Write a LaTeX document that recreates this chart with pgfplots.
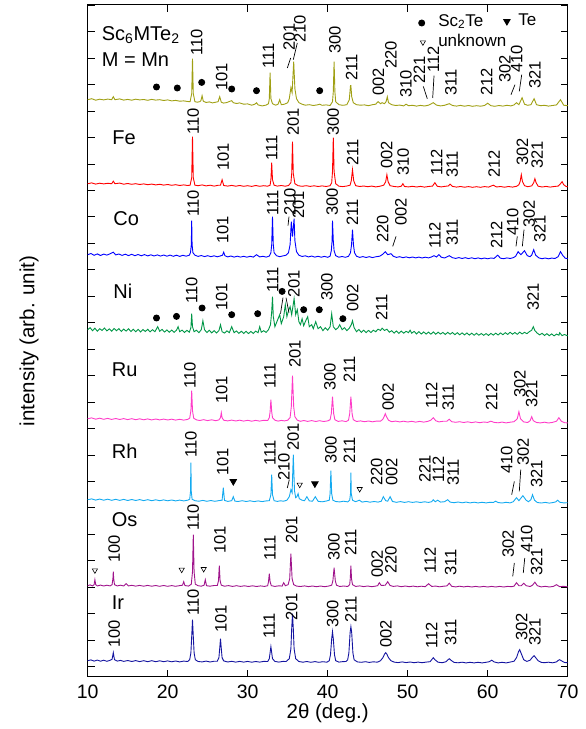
\documentclass[border=0pt]{standalone}
\usepackage{pgfplots}
\pgfplotsset{compat=1.18}
\usepackage{fontspec}
\setmainfont{Liberation Sans}
\definecolor{cMn}{RGB}{160,160,20}
\definecolor{cFe}{RGB}{255,0,0}
\definecolor{cCo}{RGB}{0,0,255}
\definecolor{cNi}{RGB}{0,150,70}
\definecolor{cRu}{RGB}{255,60,200}
\definecolor{cRh}{RGB}{20,170,240}
\definecolor{cOs}{RGB}{160,20,140}
\definecolor{cIr}{RGB}{20,20,160}
\newcommand{\hf}{\fontsize{16.5}{18}\selectfont}
\newcommand{\pf}{\fontsize{20}{24}\selectfont}
\newcommand{\lab}[3]{\node[rotate=90,anchor=west,inner sep=0pt,font=\hf] at (axis cs:#1,#2) {#3};}
\newcommand{\pan}[3]{\node[anchor=west,inner sep=0pt,font=\pf] at (axis cs:#1,#2) {#3};}
\newcommand{\lead}[4]{\draw[line width=0.7pt] (axis cs:#1,#2) -- (axis cs:#3,#4);}
\begin{document}
\begin{tikzpicture}
\begin{axis}[at={(0,0)},anchor=south west,scale only axis,width=480pt,height=671.7pt,
  xmin=10,xmax=70,ymin=0,ymax=671.7,
  xtick={10,20,...,70}, ytick={10,36.46,...,660}, yticklabels={},
  tick align=inside, major tick length=7pt,
  axis line style={line width=1pt}, every tick/.style={black,line width=0.9pt},
  clip=false,
  ticklabel style={font=\fontsize{19.5}{21}\selectfont},
  xticklabel style={yshift=-5pt},
  /pgf/number format/assume math mode=true,
  xlabel={2θ (deg.)}, ylabel={intensity (arb. unit)},
  label style={font=\fontsize{20.5}{23}\selectfont},
  xlabel style={at={(axis description cs:0.5,-0.055)},anchor=center},
  ylabel style={at={(axis description cs:-0.122,0.5)},anchor=center},
  every axis plot/.append style={line width=0.9pt}]

% Mn
\addplot[cMn] coordinates {(10,577)(10.5,578)(11,576.5)(11.5,577.5)(12,576.8)(12.5,577.6)(13,577)(13.2,580)(13.4,577)(14,577.8)(14.5,576.6)(15,577.3)(15.5,576.5)(16,577.5)(16.5,576.8)(17,577.2)(17.5,576.4)(18,577.3)(18.5,576.6)(19,577)(19.5,576.2)(20,576.8)(20.5,575.8)(21,576.3)(21.5,575.5)(22,575.8)(22.5,575.2)(22.8,575)(23.0,583)(23.1,618)(23.2,583)(23.4,575)(23.7,574.5)(24.0,575)(24.15,576)(24.3,581)(24.45,575.5)(24.8,574.2)(25.2,574.8)(25.6,573.8)(26.0,574.5)(26.3,575)(26.5,580)(26.7,574.5)(27.0,573.6)(27.4,574.2)(27.8,575.5)(28.0,576)(28.2,574)(28.6,573.2)(29.0,573.8)(29.5,572.5)(30.0,572.8)(30.5,571.5)(30.9,572.5)(31.1,574)(31.3,571.8)(31.8,570.8)(32.3,571.6)(32.6,573)(32.7,578)(32.8,604)(32.9,578)(33.1,573)(33.5,571.5)(33.8,572.5)(34.0,577)(34.2,572)(34.6,572.5)(35.0,574)(35.2,578)(35.4,589)(35.55,584)(35.75,615)(35.9,588)(36.1,578)(36.4,574)(36.8,572.5)(37.2,571.5)(37.7,572)(38.2,571.2)(38.7,571.8)(39.0,572.5)(39.3,571.4)(39.8,571.8)(40.3,571.2)(40.6,575)(40.7,585)(40.8,615)(40.9,585)(41.0,575)(41.4,572)(41.9,571.4)(42.4,572)(42.7,577)(42.85,591)(42.9,591)(43.0,580)(43.2,574)(43.6,572)(44.1,571.5)(44.6,571.8)(45.1,571)(45.6,572)(46.0,572.5)(46.3,575)(46.6,573)(46.8,574)(47.1,573)(47.3,575)(47.45,580)(47.6,574)(48.0,572)(48.5,571.2)(49.0,571.6)(49.5,570.8)(49.8,572.5)(50.1,571)(50.6,571.4)(51.1,570.6)(51.6,571.3)(52.1,570.7)(52.6,571.5)(53.2,574)(53.6,571.6)(54.1,570.8)(54.6,571.4)(55.2,573)(55.6,571.2)(56.1,570.6)(56.6,571.3)(57.1,570.5)(57.6,571.2)(58.1,570.4)(58.6,571)(59.1,570.5)(59.6,571.2)(60.0,573.5)(60.4,571)(60.9,570.4)(61.4,571.2)(61.9,570.6)(62.4,571.4)(62.9,570.8)(63.3,571.8)(63.6,574)(63.9,572)(64.3,579)(64.6,572.5)(65.0,571.4)(65.4,572)(65.8,578)(66.1,572)(66.6,571)(67.1,571.4)(67.6,570.6)(68.1,571.2)(68.6,571.8)(69.1,577)(69.5,571.5)(70,571)};

% Fe
\addplot[cFe] coordinates {(10,493)(10.5,493.8)(11,492.6)(11.5,493.5)(12,492.8)(12.5,493.4)(13,493)(13.2,495.5)(13.4,493)(14,493.6)(14.5,492.5)(15,493.2)(15.5,492.4)(16,493)(16.5,492.2)(17,492.8)(17.5,492)(18,492.6)(18.5,491.8)(19,492.4)(19.5,491.6)(20,492.2)(20.5,491.4)(21,492)(21.5,491.2)(22,491.8)(22.5,491.2)(22.8,491.5)(23.0,499)(23.1,540)(23.2,499)(23.4,491.5)(23.8,491)(24.3,491.8)(24.8,490.8)(25.3,491.5)(25.8,490.6)(26.3,491.4)(26.6,491.5)(26.8,497)(27.0,491.2)(27.5,490.6)(28.0,491.3)(28.5,490.5)(29.0,491.2)(29.5,490.4)(30.0,491)(30.5,490.3)(31.0,491.2)(31.5,490.4)(32.0,491)(32.5,490.5)(32.8,491.5)(32.9,497)(33.0,514)(33.1,497)(33.3,491.5)(33.7,490.6)(34.2,491.2)(34.7,490.5)(35.1,491.2)(35.4,494)(35.5,503)(35.6,535)(35.7,503)(35.9,493)(36.3,491)(36.8,490.4)(37.3,491)(37.8,490.3)(38.3,490.9)(38.8,490.2)(39.3,490.8)(39.8,490.2)(40.3,491)(40.5,494)(40.6,505)(40.7,539)(40.8,505)(41.0,493)(41.4,490.5)(41.9,490.1)(42.4,490.7)(42.8,491.5)(42.95,496)(43.1,507)(43.25,496)(43.5,491)(44.0,490.2)(44.5,490.7)(45.0,490)(45.5,490.6)(46.0,489.8)(46.5,490.4)(47.0,491.5)(47.25,495)(47.4,502)(47.55,495)(47.8,491)(48.3,490.2)(48.8,489.8)(49.2,490.5)(49.4,493)(49.6,490.2)(50.1,489.8)(50.6,490.4)(51.1,489.7)(51.6,490.3)(52.1,489.6)(52.6,490.2)(53.1,490.6)(53.4,494)(53.7,490.4)(54.2,489.8)(54.7,490.4)(55.1,490.8)(55.3,492.5)(55.6,490.3)(56.1,489.6)(56.6,490.2)(57.1,489.5)(57.6,490.1)(58.1,489.4)(58.6,490)(59.1,489.4)(59.6,490.1)(60.1,489.6)(60.7,491.5)(61.1,489.7)(61.6,490.2)(62.1,489.5)(62.6,490.2)(63.1,489.6)(63.6,490.4)(63.9,492)(64.05,495)(64.2,502)(64.35,495)(64.6,491)(65.0,490)(65.5,490.8)(65.75,494)(65.9,498)(66.05,494)(66.3,490.5)(66.8,489.7)(67.3,490.3)(67.8,489.6)(68.3,490.2)(68.8,490.6)(69.1,493)(69.3,495)(69.5,492)(69.8,490.2)(70,490)};

% Co
\addplot[cCo] coordinates {(10,422)(10.4,423.2)(10.8,421.4)(11.2,422.8)(11.6,421.2)(12,422.6)(12.4,421.6)(12.8,422.9)(13.2,424.5)(13.5,421.8)(13.9,422.7)(14.3,421.3)(14.7,422.5)(15.1,421.1)(15.5,422.4)(15.9,421)(16.3,422.2)(16.7,420.9)(17.1,422.1)(17.5,420.8)(17.9,421.9)(18.3,420.7)(18.7,421.8)(19.1,420.6)(19.5,421.7)(19.9,420.5)(20.3,421.6)(20.7,420.4)(21.1,421.5)(21.5,420.3)(21.9,421.4)(22.3,420.5)(22.7,421.5)(22.85,424)(22.95,432)(23.0,456)(23.05,432)(23.15,424)(23.4,421.5)(23.8,420.3)(24.2,421.2)(24.6,420.1)(25.0,421)(25.4,420)(25.8,420.9)(26.2,419.9)(26.6,420.8)(26.85,421.5)(27.0,424.5)(27.15,421)(27.5,419.8)(27.9,420.7)(28.3,419.6)(28.7,420.5)(29.1,419.6)(29.5,420.4)(29.9,419.5)(30.3,420.4)(30.7,419.6)(31.1,422)(31.5,419.8)(31.9,420.4)(32.3,419.6)(32.7,420.6)(32.9,424)(33.0,432)(33.1,460)(33.2,432)(33.3,424)(33.6,421)(34.0,420)(34.4,420.8)(34.8,421.5)(35.1,424)(35.3,432)(35.45,455)(35.6,440)(35.8,458)(35.9,436)(36.1,425)(36.4,421.5)(36.8,420.2)(37.2,420.9)(37.6,419.8)(38.0,420.6)(38.4,419.6)(38.8,420.4)(39.2,419.5)(39.6,420.3)(40.0,419.4)(40.3,420.5)(40.45,426)(40.55,436)(40.6,456)(40.7,436)(40.8,426)(41.0,421)(41.4,419.5)(41.8,420.2)(42.2,419.4)(42.6,420.4)(42.85,424)(42.98,432)(43.1,447)(43.22,432)(43.35,424)(43.6,420.5)(44.0,419.3)(44.4,420.1)(44.8,419.2)(45.2,420)(45.6,419.1)(46.0,419.9)(46.5,420.5)(46.9,422.5)(47.2,425)(47.5,422)(47.9,423)(48.2,420.5)(48.6,419.3)(49.0,420)(49.4,419)(49.8,419.8)(50.2,418.9)(50.6,419.7)(51.0,418.8)(51.4,419.6)(51.8,418.7)(52.2,419.5)(52.6,418.8)(53.0,419.8)(53.3,421)(53.6,419.7)(53.9,422)(54.2,419.5)(54.6,418.7)(55.2,421)(55.6,419)(56.0,418.3)(56.4,419.1)(56.8,418.2)(57.2,419)(57.6,418.1)(58.0,418.9)(58.4,418)(58.8,418.8)(59.2,417.9)(59.6,418.7)(60.0,417.9)(60.4,418.7)(60.8,418.3)(61.25,421.5)(61.6,418.5)(62.0,418)(62.4,418.8)(62.8,418.2)(63.2,419)(63.5,420.5)(63.8,425)(64.15,422)(64.6,426)(64.95,421)(65.3,420)(65.5,421.5)(65.75,427)(66.0,421.5)(66.4,418.8)(66.8,418)(67.2,418.7)(67.6,417.9)(68.0,418.6)(68.4,418.2)(68.8,420)(69.1,425)(69.4,421)(69.7,418.5)(70,418)};

% Ni
\addplot[cNi] coordinates {(10,347)(10.3,349)(10.6,346)(10.9,348.5)(11.2,345.5)(11.5,348)(11.8,346.2)(12.1,348.6)(12.4,345.8)(12.7,347.8)(13.0,345.5)(13.3,348.2)(13.6,346)(13.9,348)(14.2,345.3)(14.5,347.6)(14.8,345.6)(15.1,348)(15.4,345.2)(15.7,347.5)(16.0,345)(16.3,347.4)(16.6,344.8)(16.9,347.2)(17.2,345.2)(17.5,347.4)(17.8,344.9)(18.1,347)(18.4,345)(18.75,350)(19.0,345.4)(19.3,347.3)(19.6,344.6)(19.9,346.8)(20.2,344.5)(20.5,346.6)(20.8,344.4)(21.1,346.5)(21.3,350)(21.5,345)(21.8,346.6)(22.1,344.2)(22.4,346.4)(22.7,344.5)(22.9,349)(23.0,363)(23.1,350)(23.3,345)(23.6,346.5)(23.9,344)(24.2,347)(24.4,356)(24.6,347)(24.9,344.2)(25.2,346.4)(25.5,343.8)(25.8,346.1)(26.1,343.7)(26.4,346)(26.6,352)(26.8,345)(27.1,343.6)(27.4,345.9)(27.7,344)(28.0,350)(28.3,344)(28.6,345.8)(28.9,343.3)(29.2,345.5)(29.5,343.2)(29.8,345.4)(30.1,343.1)(30.4,345.3)(30.7,343.2)(31.0,345.6)(31.3,344)(31.5,350)(31.7,344.5)(32.0,346)(32.3,344.3)(32.6,347)(32.85,352)(33.0,365)(33.1,380)(33.2,360)(33.4,350)(33.7,356)(34.0,362)(34.2,353)(34.5,360)(34.7,372)(34.9,360)(35.1,366)(35.3,370)(35.5,362)(35.8,378)(36.0,362)(36.2,367)(36.4,355)(36.6,352)(36.8,358)(37.0,351)(37.2,355)(37.5,360)(37.7,350)(38.0,352)(38.2,348)(38.5,355)(38.8,348)(39.1,350)(39.4,346)(39.7,349)(40.0,346.5)(40.3,350)(40.5,363)(40.7,350)(41.0,347)(41.3,349)(41.5,352)(41.8,347)(42.1,349)(42.4,346)(42.7,348.5)(42.95,352)(43.1,356)(43.3,349)(43.6,345)(43.9,347.2)(44.2,344.3)(44.5,346.5)(44.8,344)(45.1,346.3)(45.4,344.2)(45.7,346.5)(46.0,345)(46.3,347.5)(46.6,346.2)(46.8,348.5)(47.1,346.3)(47.4,347.5)(47.7,344.5)(48.0,346)(48.3,343.5)(48.6,345.8)(48.9,343.3)(49.2,345.6)(49.5,343.5)(49.8,345.4)(50.1,344)(50.3,346.5)(50.5,343.5)(50.8,345.3)(51.1,342.8)(51.4,345)(51.7,342.7)(52.0,344.8)(52.3,342.6)(52.6,344.6)(52.9,342.5)(53.2,344.8)(53.5,342.4)(53.8,344.5)(54.1,342.6)(54.4,344.3)(54.7,342.2)(55.0,344.4)(55.3,342.5)(55.6,344.2)(55.9,342)(56.2,344)(56.5,341.9)(56.8,343.8)(57.1,341.8)(57.4,343.7)(57.7,341.6)(58.0,343.5)(58.3,341.5)(58.6,343.4)(58.9,341.5)(59.2,343.2)(59.5,341.4)(59.8,343.1)(60.1,341.3)(60.4,343.3)(60.7,341.6)(61.0,343.5)(61.3,341.7)(61.6,343.8)(61.9,342)(62.2,344)(62.5,342.3)(62.8,344.4)(63.1,342.5)(63.4,344.2)(63.7,342.4)(64.0,344.6)(64.3,342.8)(64.6,344.4)(64.9,343)(65.2,345)(65.5,346.5)(65.7,350)(65.9,346)(66.2,343.5)(66.5,341.8)(66.8,343.4)(67.1,341.2)(67.4,343)(67.7,341)(68.0,342.8)(68.3,340.8)(68.6,342.6)(68.9,341.5)(69.0,344)(69.3,341)(69.6,342.2)(70,340.8)};

% Ru
\addplot[cRu] coordinates {(10,258)(10.5,258.8)(11,257.5)(11.5,258.5)(12,257.4)(12.5,258.3)(13,257.3)(13.5,258.2)(14,257.2)(14.5,258.1)(15,257.1)(15.5,258)(16,257)(16.5,257.9)(17,256.9)(17.5,257.8)(18,256.8)(18.5,257.7)(19,256.8)(19.5,257.6)(20,256.7)(20.5,257.5)(21,256.6)(21.5,257.4)(22,256.6)(22.5,257.3)(22.75,258.5)(22.9,266)(23.0,286)(23.1,266)(23.25,258.5)(23.6,256.8)(24.0,256.2)(24.5,257)(25.0,256.1)(25.5,256.9)(26.0,256)(26.4,256.8)(26.6,259)(26.7,264)(26.8,259)(27.0,256.5)(27.5,255.8)(28.0,256.6)(28.5,255.7)(29.0,256.5)(29.5,255.6)(30.0,256.4)(30.5,255.5)(31.0,256.3)(31.5,255.6)(32.0,256.4)(32.5,256.2)(32.7,259)(32.8,265)(32.9,277)(33.0,265)(33.1,259)(33.4,256.5)(33.8,255.6)(34.2,256.3)(34.6,255.8)(35.0,256.5)(35.3,259)(35.45,270)(35.6,301)(35.75,270)(35.9,260)(36.2,256.5)(36.6,255.4)(37.0,256.2)(37.5,255.3)(38.0,256.1)(38.5,255.2)(39.0,256)(39.5,255.2)(40.0,255.8)(40.3,257)(40.45,263)(40.6,280)(40.75,263)(40.9,257)(41.3,255.3)(41.8,255.9)(42.3,255.1)(42.6,256.5)(42.75,263)(42.9,280)(43.05,263)(43.2,257)(43.6,255.2)(44.1,255.8)(44.6,255)(45.1,255.7)(45.6,254.9)(46.1,255.6)(46.6,255.5)(46.9,257.5)(47.05,260)(47.2,263)(47.35,260)(47.6,256.5)(48.0,255)(48.5,255.6)(49.0,254.8)(49.5,255.5)(50.0,254.7)(50.5,255.4)(51.0,254.6)(51.5,255.3)(52.0,254.6)(52.5,255.3)(52.9,256.5)(53.2,259)(53.5,256)(53.9,254.8)(54.4,255.4)(54.9,255.5)(55.2,257.5)(55.5,255)(56.0,254.4)(56.5,255)(57.0,254.2)(57.5,254.9)(58.0,254.1)(58.5,254.8)(59.0,254)(59.5,254.7)(60.0,254.3)(60.4,255.5)(60.8,254.3)(61.3,253.9)(61.8,254.6)(62.3,253.8)(62.8,254.5)(63.3,255)(63.7,258)(63.9,265)(64.1,258)(64.5,254.8)(65.0,254.2)(65.3,256)(65.5,260)(65.7,256)(66.1,254.2)(66.6,253.8)(67.1,254.5)(67.6,253.7)(68.1,254.3)(68.6,255.5)(68.9,259)(69.2,255.5)(69.6,254)(70,253.8)};

% Rh
\addplot[cRh] coordinates {(10,177)(10.5,177.8)(11,176.6)(11.5,177.6)(12,176.5)(12.5,177.5)(13,176.4)(13.5,177.4)(14,176.3)(14.5,177.3)(15,176.2)(15.5,177.2)(16,176.2)(16.5,177.1)(17,176.1)(17.5,177)(18,176)(18.5,176.9)(19,176)(19.5,176.8)(20,175.9)(20.5,176.7)(21,175.8)(21.5,176.6)(22,175.8)(22.5,176.5)(22.75,177.5)(22.85,185)(22.9,214)(22.95,185)(23.05,177.5)(23.4,176)(23.9,175.5)(24.4,176.3)(24.9,175.4)(25.4,176.2)(25.9,175.4)(26.4,176.1)(26.8,176.5)(26.95,189)(27.1,176.3)(27.5,175.3)(28.0,176)(28.2,180)(28.4,175.6)(28.8,175.2)(29.3,176)(29.8,175.2)(30.3,175.9)(30.8,175.1)(31.3,175.8)(31.8,175.1)(32.3,175.8)(32.7,176)(32.9,182)(33.0,202)(33.1,182)(33.3,176)(33.7,175.3)(34.1,175.9)(34.5,175.5)(34.9,176.5)(35.2,180)(35.4,187)(35.55,184)(35.7,222)(35.85,186)(36.0,179)(36.15,180)(36.3,183)(36.45,178)(36.8,176.5)(37.1,176)(37.4,180)(37.7,175.8)(38.1,175.5)(38.45,180)(38.8,175.4)(39.3,174.9)(39.8,175.6)(40.2,176.5)(40.3,183)(40.4,206)(40.5,183)(40.65,176.5)(41.0,175.2)(41.5,174.8)(42.0,175.5)(42.5,174.8)(42.75,176.5)(42.85,183)(42.9,204)(42.95,183)(43.1,176.5)(43.5,175)(43.95,176.5)(44.3,174.6)(44.8,175.3)(45.3,174.5)(45.8,175.2)(46.3,174.6)(46.7,175.5)(46.95,180)(47.25,176)(47.5,175.5)(47.8,180)(48.1,175.2)(48.6,174.4)(49.1,175.1)(49.6,174.3)(50.1,175)(50.6,174.3)(51.1,174.9)(51.6,174.2)(52.1,174.9)(52.6,174.3)(53.0,175)(53.2,177)(53.45,175)(53.75,176.5)(54.1,174.6)(54.6,175)(55.0,177)(55.3,174.6)(55.8,174)(56.3,174.7)(56.8,173.9)(57.3,174.6)(57.8,173.8)(58.3,174.5)(58.8,173.8)(59.3,174.4)(59.8,173.8)(60.3,174.4)(60.7,174.2)(61.0,175.5)(61.3,174.2)(61.8,173.7)(62.3,174.4)(62.8,173.8)(63.2,175)(63.6,179)(63.9,176)(64.4,181)(64.8,176.5)(65.1,175)(65.4,177)(65.6,182)(65.85,176.5)(66.2,174.2)(66.7,173.7)(67.2,174.3)(67.7,173.6)(68.2,174.2)(68.5,174.8)(68.75,176.5)(69.0,174.5)(69.5,173.8)(70,174)};

% Os
\addplot[cOs] coordinates {(10,91)(10.3,91.8)(10.6,90.8)(10.8,92)(10.9,97)(11.0,92)(11.2,90.8)(11.6,91.6)(12.0,90.7)(12.4,91.5)(12.8,90.8)(13.05,92)(13.15,98)(13.2,105)(13.25,98)(13.35,92)(13.7,90.8)(14.1,91.5)(14.5,90.7)(14.8,93)(15.1,90.8)(15.5,91.4)(16.0,90.6)(16.5,91.3)(17.0,90.5)(17.5,91.3)(18.0,90.5)(18.5,91.2)(19.0,90.4)(19.5,91.2)(20.0,90.4)(20.5,91.1)(21.0,90.4)(21.5,91.1)(21.85,91.5)(22.0,95)(22.15,91.2)(22.6,90.6)(22.95,92.5)(23.1,105)(23.2,142)(23.3,105)(23.45,92.5)(23.8,91)(24.2,90.5)(24.55,91.5)(24.7,97)(24.85,91)(25.3,90.5)(25.8,91.2)(26.2,91.2)(26.35,96)(26.45,111)(26.55,96)(26.7,91.5)(27.1,90.5)(27.6,91.1)(28.1,90.3)(28.6,91)(29.1,90.3)(29.6,90.9)(30.1,90.2)(30.6,90.9)(31.1,90.2)(31.6,90.8)(32.1,90.3)(32.5,91)(32.6,95)(32.7,103)(32.8,95)(32.95,91)(33.4,90.3)(33.9,90.9)(34.3,90.6)(34.5,94)(34.7,91)(35.05,92)(35.25,98)(35.4,123)(35.55,98)(35.75,92)(36.1,90.6)(36.6,90.2)(37.1,90.8)(37.6,90.1)(38.1,90.7)(38.6,90)(39.1,90.7)(39.6,90)(40.1,90.6)(40.5,91.5)(40.65,96)(40.8,109)(40.95,96)(41.1,91.5)(41.5,90.2)(42.0,90.7)(42.5,90.2)(42.75,92)(42.82,98)(42.9,111)(42.98,98)(43.1,92)(43.5,90.3)(44.0,90.8)(44.5,90.1)(45.0,90.7)(45.5,90)(46.0,90.6)(46.25,91)(46.45,94)(46.7,91.2)(47.2,91.5)(47.5,95)(47.8,91.2)(48.2,90.3)(48.7,90.8)(49.2,90)(49.7,90.7)(50.2,90)(50.7,90.6)(51.2,89.9)(51.7,90.5)(52.2,90)(52.6,93)(53.0,90.3)(53.5,90.6)(54.0,89.9)(54.5,90.5)(54.9,90.8)(55.2,93.5)(55.5,90.4)(56.0,89.8)(56.5,90.5)(57.0,89.8)(57.5,90.4)(58.0,89.7)(58.5,90.3)(59.0,89.7)(59.5,90.3)(60.0,89.7)(60.5,90.3)(61.0,89.7)(61.5,90.3)(62.0,89.7)(62.5,90.3)(63.0,90)(63.3,90.6)(63.6,94)(63.9,91)(64.2,91)(64.5,93.5)(64.8,91)(65.3,90.2)(65.6,91.5)(65.9,94.5)(66.2,91)(66.7,89.8)(67.2,90.4)(67.7,89.7)(68.2,90.3)(68.6,92)(69.0,90)(69.5,90.4)(70,89.8)};

% Ir
\addplot[cIr] coordinates {(10,16)(10.4,16.8)(10.8,15.6)(11.2,16.6)(11.6,15.5)(12,16.5)(12.4,15.4)(12.8,16.4)(13.05,17.5)(13.2,24)(13.35,17)(13.7,15.6)(14.1,16.3)(14.5,15.3)(15,16.2)(15.5,15.2)(16,16.1)(16.5,15.1)(17,16)(17.5,15)(18,16)(18.5,15)(19,15.9)(19.5,15)(20,15.8)(20.5,14.9)(21,15.7)(21.5,14.8)(22,15.6)(22.5,15.2)(22.75,17)(22.9,24)(23.0,40)(23.1,57)(23.2,40)(23.3,24)(23.45,17)(23.8,15.2)(24.3,14.8)(24.8,15.6)(25.3,14.7)(25.8,15.5)(26.2,15.5)(26.4,19)(26.5,28)(26.6,38)(26.7,28)(26.8,19)(27.0,15.8)(27.5,14.7)(28,15.4)(28.5,14.6)(29,15.3)(29.5,14.6)(30,15.3)(30.5,14.5)(31,15.2)(31.5,14.6)(32,15.3)(32.5,15.2)(32.7,18)(32.8,24)(32.9,30)(33.0,24)(33.1,18)(33.4,15.3)(33.9,14.6)(34.4,15.3)(34.8,15.2)(35.2,18)(35.4,28)(35.5,48)(35.6,63)(35.7,48)(35.8,28)(36.0,18)(36.4,15.2)(36.9,14.5)(37.4,15.2)(37.9,14.4)(38.4,15.1)(38.9,14.4)(39.4,15)(39.9,14.5)(40.2,16)(40.35,22)(40.5,38)(40.6,45)(40.7,38)(40.85,22)(41.0,16)(41.4,14.6)(41.9,15.1)(42.3,15.2)(42.5,17)(42.65,24)(42.8,44)(42.9,50)(43.0,44)(43.15,24)(43.3,17)(43.7,14.8)(44.2,14.4)(44.7,15)(45.2,14.3)(45.7,14.9)(46.2,14.5)(46.6,16)(46.9,19)(47.1,22.5)(47.25,24)(47.4,22.5)(47.6,19)(47.9,16)(48.3,14.6)(48.8,14.1)(49.3,14.8)(49.8,14.1)(50.3,14.7)(50.8,14)(51.3,14.6)(51.8,14)(52.3,14.6)(52.8,15)(53.05,17.5)(53.2,19)(53.4,17)(53.8,14.5)(54.3,14)(54.8,15)(55.05,17)(55.2,18)(55.4,16.5)(55.8,14.3)(56.3,13.9)(56.8,14.5)(57.3,13.8)(57.8,14.4)(58.3,13.8)(58.8,14.4)(59.3,13.8)(59.8,14.4)(60.2,15)(60.5,16.5)(60.8,14.8)(61.3,13.8)(61.8,14.4)(62.3,13.8)(62.8,14.6)(63.3,15.5)(63.6,19)(63.85,25)(64.0,27)(64.2,23)(64.5,17)(64.9,15.3)(65.3,16.5)(65.6,19.5)(65.8,21)(66.0,19)(66.3,16)(66.7,14.3)(67.1,14)(67.6,14.5)(68.1,13.9)(68.6,14.8)(68.85,16.5)(69.0,17)(69.2,16)(69.6,14.2)(70,14)};

% phase markers
\addplot[only marks, mark=*, mark size=3pt, black] coordinates {(18.6,589.7)(21.2,588.7)(24.25,594.3)(28.0,587.7)(31.1,586)(39.0,586)(18.6,358.7)(21.1,360.3)(24.3,368.7)(28.0,362)(31.25,363)(34.3,385.3)(37.0,367)(38.95,367)(41.9,358)(51.75,653.7)};
\addplot[only marks, mark=triangle*, mark options={rotate=180}, mark size=3.6pt, black] coordinates {(28.2,195.3)(38.4,193)(62.4,655.3)};
\addplot[only marks, mark=triangle, mark options={rotate=180,line width=0.6pt}, mark size=3pt, black] coordinates {(36.5,192)(44.0,187.7)(10.9,106.3)(21.75,107)(24.5,107.7)(51.9,634.3)};

% legend text
\node[anchor=base west,inner sep=0pt,font=\fontsize{17}{20}\selectfont] at (axis cs:53.8,650.3) {Sc\textsubscript{2}Te};
\node[anchor=base west,inner sep=0pt,font=\fontsize{17}{20}\selectfont] at (axis cs:63.8,651) {Te};
\node[anchor=base west,inner sep=0pt,font=\fontsize{17}{20}\selectfont] at (axis cs:53.8,630.3) {unknown};

% panel labels
\node[anchor=base west,inner sep=0pt,font=\pf] at (axis cs:11.75,636) {Sc\textsubscript{6}MTe\textsubscript{2}};
\node[anchor=base west,inner sep=0pt,font=\pf] at (axis cs:11.75,610) {M = Mn};
\pan{13.075}{538.7}{Fe}
\pan{13.2}{457.7}{Co}
\pan{13.2}{385.3}{Ni}
\pan{13.0}{307}{Ru}
\pan{13.0}{225.3}{Rh}
\pan{13.0}{157.5}{Os}
\pan{13.0}{73.7}{Ir}

% Mn labels
\lab{23.63}{621}{110}\lab{26.75}{586}{101}\lab{32.58}{608}{111}\lab{35.2}{626}{201}\lab{36.54}{634}{210}
\lab{40.91}{623}{300}\lab{43.0}{596}{211}\lab{46.33}{581}{002}\lab{47.91}{608}{220}\lab{49.79}{579}{310}
\lab{51.45}{593}{221}\lab{53.2}{604}{112}\lab{55.41}{581}{311}\lab{59.875}{581}{212}\lab{62.16}{594}{302}
\lab{63.625}{604}{410}\lab{65.91}{588}{321}
\lead{34.95}{608.7}{35.375}{618.7}\lead{35.7}{617}{36.2}{633.7}\lead{52.45}{578}{51.95}{590.3}
\lead{53.125}{578.7}{53.29}{601}\lead{62.91}{582}{63.41}{592}\lead{63.95}{585.3}{64.25}{602}
% Fe labels
\lab{23.2}{542}{110}\lab{26.95}{506}{101}\lab{33.0}{516}{111}\lab{35.7}{541}{201}\lab{40.7}{541}{300}
\lab{43.125}{511}{211}\lab{47.375}{508}{002}\lab{49.45}{501}{310}\lab{53.625}{501}{112}\lab{55.575}{499}{311}
\lab{60.79}{499}{212}\lab{64.33}{511}{302}\lab{66.2}{508}{321}
% Co labels
\lab{23.2}{460}{110}\lab{26.875}{433}{101}\lab{33.125}{461}{111}\lab{35.29}{461}{210}\lab{36.33}{458}{201}
\lab{40.575}{461}{300}\lab{43.075}{451}{211}\lab{46.875}{434}{220}\lab{49.16}{451}{002}\lab{53.41}{428}{112}
\lab{55.575}{431}{311}\lab{61.125}{428}{212}\lab{63.125}{441}{410}\lab{65.2}{449}{302}\lab{66.54}{434}{321}
\lead{35.04}{451}{35.16}{460}\lead{48.125}{430.3}{48.54}{440.3}\lead{63.54}{430.3}{63.7}{440.3}\lead{64.33}{430.3}{64.54}{447}
% Ni labels
\lab{23.0}{373}{110}\lab{26.75}{366}{101}\lab{33.125}{384}{111}\lab{35.79}{379}{201}\lab{39.9}{376}{300}
\lab{43.125}{365}{002}\lab{46.75}{356}{211}\lab{65.7}{366}{321}
\lead{34.1}{363}{34.41}{379}\lead{34.79}{379}{35.16}{364}
% Ru labels
\lab{22.79}{288}{110}\lab{26.75}{273}{101}\lab{32.79}{288}{111}\lab{35.91}{309}{201}\lab{40.29}{286}{300}
\lab{42.7}{294}{211}\lab{47.575}{266}{002}\lab{53.0}{268}{112}\lab{55.075}{266}{311}\lab{60.5}{266}{212}
\lab{64.04}{279}{302}\lab{65.5}{269}{321}
% Rh labels
\lab{22.91}{219}{110}\lab{26.875}{201}{101}\lab{32.79}{211}{111}\lab{34.54}{196}{210}\lab{35.7}{226}{201}
\lab{40.41}{213}{300}\lab{42.7}{213}{211}\lab{46.125}{191}{220}\lab{48.0}{191}{002}\lab{52.16}{194}{221}
\lab{53.825}{194}{112}\lab{55.7}{191}{311}\lab{62.375}{203}{410}\lab{64.45}{211}{302}\lab{66.125}{189}{321}
\lead{34.95}{188.7}{35.2}{197}\lead{63.0}{182}{63.33}{195.3}\lead{63.95}{185.3}{64.13}{207}
% Os labels
\lab{13.325}{114}{100}\lab{23.2}{146}{110}\lab{26.54}{123}{101}\lab{32.79}{116}{111}\lab{35.5}{133}{201}
\lab{40.79}{116}{300}\lab{42.875}{121}{211}\lab{46.2}{99}{002}\lab{47.91}{103}{220}\lab{52.79}{103}{112}
\lab{55.375}{101}{311}\lab{62.575}{119}{302}\lab{64.875}{124}{410}\lab{66.125}{101}{321}
\lead{63.13}{100.3}{63.33}{113.7}\lead{64.45}{103.7}{64.63}{118.7}
% Ir labels
\lab{13.325}{29}{100}\lab{23.2}{61}{110}\lab{26.66}{44}{101}\lab{32.7}{38}{111}\lab{35.5}{56}{201}
\lab{40.625}{49}{300}\lab{42.91}{54}{211}\lab{47.29}{29}{002}\lab{53.0}{28}{112}\lab{55.375}{31}{311}
\lab{64.25}{36}{302}\lab{65.91}{31}{321}
\end{axis}
\path[use as bounding box] (-87.7pt,-52.3pt) rectangle (498.3pt,676.7pt);
\end{tikzpicture}
\end{document}
